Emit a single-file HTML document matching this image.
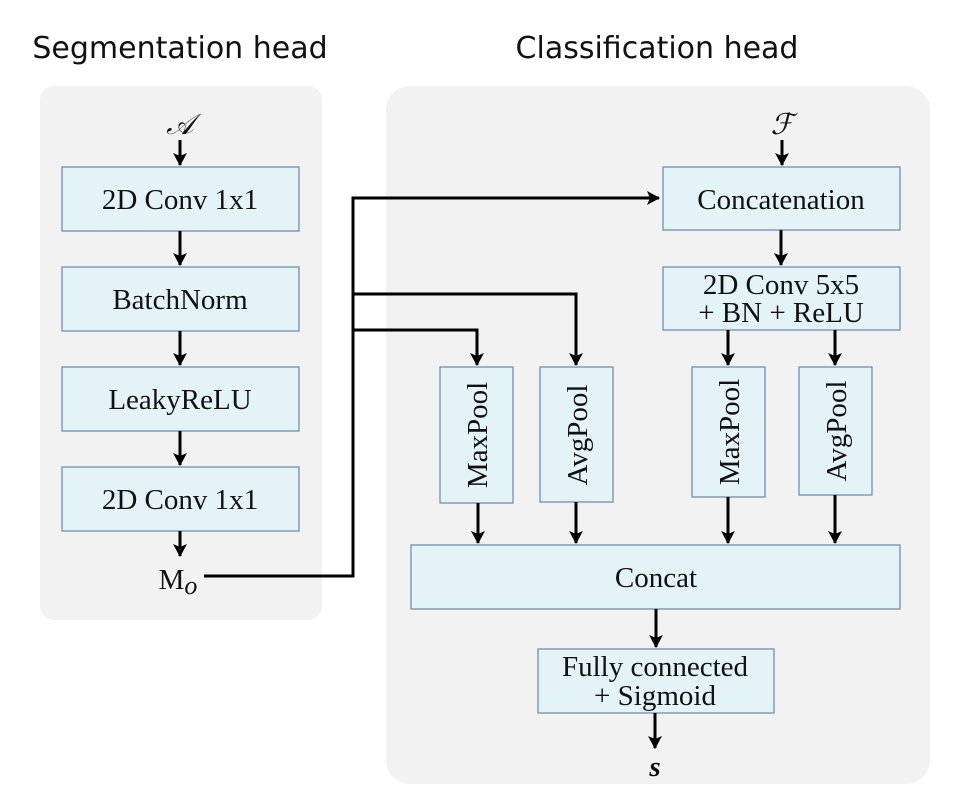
<!DOCTYPE html>
<html><head><meta charset="utf-8"><style>
body{margin:0;background:#fff}
svg{display:block}
.b{fill:#e4f3f7;stroke:#6f8fb3;stroke-width:1.3}
.t{font-family:"Liberation Serif",serif;font-size:29px;fill:#111;text-anchor:middle}
.l{stroke:#000;stroke-width:3;fill:none}
.h{font-family:"DejaVu Sans","Liberation Sans",sans-serif;font-size:30px;fill:#111;text-anchor:middle}
</style></head><body>
<svg width="958" height="808" viewBox="0 0 958 808" xmlns="http://www.w3.org/2000/svg">
<defs><marker id="a" markerWidth="14" markerHeight="14" refX="12" refY="7" orient="auto" markerUnits="userSpaceOnUse"><path d="M0,0 L13,7 L0,14 L3,7 Z" fill="#000"/></marker></defs>
<text class="h" x="180" y="58">Segmentation head</text>
<text class="h" x="657" y="58">Classification head</text>
<rect x="40" y="86" width="282" height="534" rx="14" fill="#f2f2f2"/>
<rect x="386" y="86" width="544" height="698" rx="24" fill="#f2f2f2"/>
<!-- left -->
<text class="t" x="180" y="134" font-style="italic" font-size="38">𝒜</text>
<line class="l" x1="180" y1="140" x2="180" y2="165" marker-end="url(#a)"/>
<rect class="b" x="62" y="167" width="237" height="64"/><text class="t" x="180" y="209">2D Conv 1x1</text>
<line class="l" x1="180" y1="231" x2="180" y2="265" marker-end="url(#a)"/>
<rect class="b" x="62" y="267" width="237" height="64"/><text class="t" x="180" y="309">BatchNorm</text>
<line class="l" x1="180" y1="331" x2="180" y2="365" marker-end="url(#a)"/>
<rect class="b" x="62" y="367" width="237" height="64"/><text class="t" x="180" y="409">LeakyReLU</text>
<line class="l" x1="180" y1="431" x2="180" y2="465" marker-end="url(#a)"/>
<rect class="b" x="62" y="467" width="237" height="64"/><text class="t" x="180" y="509">2D Conv 1x1</text>
<line class="l" x1="180" y1="531" x2="180" y2="556" marker-end="url(#a)"/>
<text class="t" x="178" y="589" font-size="33">M<tspan font-style="italic" font-size="26" dy="5">o</tspan></text>
<!-- connectors -->
<polyline class="l" points="204,576 353,576 353,198 659,198" marker-end="url(#a)"/>
<polyline class="l" points="353,294 576,294 576,365" marker-end="url(#a)"/>
<polyline class="l" points="353,330 477,330 477,365" marker-end="url(#a)"/>
<!-- right -->
<text class="t" x="782" y="134" font-style="italic" font-size="38">ℱ</text>
<line class="l" x1="782" y1="140" x2="782" y2="165" marker-end="url(#a)"/>
<rect class="b" x="663" y="167" width="237" height="63"/><text class="t" x="781" y="209">Concatenation</text>
<line class="l" x1="781" y1="230" x2="781" y2="265" marker-end="url(#a)"/>
<rect class="b" x="663" y="267" width="237" height="63"/>
<text class="t" x="781" y="294">2D Conv 5x5</text><text class="t" x="781" y="322">+ BN + ReLU</text>
<line class="l" x1="728" y1="330" x2="728" y2="365" marker-end="url(#a)"/>
<line class="l" x1="835" y1="330" x2="835" y2="365" marker-end="url(#a)"/>
<rect class="b" x="440" y="367" width="73" height="136"/>
<rect class="b" x="540" y="367" width="73" height="135"/>
<rect class="b" x="692" y="367" width="73" height="130"/>
<rect class="b" x="799" y="367" width="73" height="128"/>
<text class="t" transform="translate(487,435) rotate(-90)">MaxPool</text>
<text class="t" transform="translate(587,435) rotate(-90)">AvgPool</text>
<text class="t" transform="translate(739,432) rotate(-90)">MaxPool</text>
<text class="t" transform="translate(846,431) rotate(-90)">AvgPool</text>
<line class="l" x1="478" y1="503" x2="478" y2="543" marker-end="url(#a)"/>
<line class="l" x1="576" y1="502" x2="576" y2="543" marker-end="url(#a)"/>
<line class="l" x1="728" y1="497" x2="728" y2="543" marker-end="url(#a)"/>
<line class="l" x1="835" y1="495" x2="835" y2="543" marker-end="url(#a)"/>
<rect class="b" x="411" y="545" width="489" height="64"/><text class="t" x="656" y="587">Concat</text>
<line class="l" x1="656" y1="609" x2="656" y2="647" marker-end="url(#a)"/>
<rect class="b" x="538" y="649" width="236" height="64"/>
<text class="t" x="655" y="676">Fully connected</text><text class="t" x="655" y="705">+ Sigmoid</text>
<line class="l" x1="655" y1="713" x2="655" y2="748" marker-end="url(#a)"/>
<text class="t" x="655" y="776" font-style="italic" font-size="31" font-weight="bold">s</text>
</svg>
</body></html>
